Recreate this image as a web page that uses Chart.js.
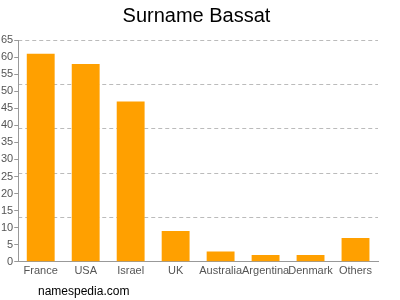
<!DOCTYPE html>
<html>
<head>
<meta charset="utf-8">
<script src="https://cdn.jsdelivr.net/npm/chart.js@4.4.0/dist/chart.umd.min.js"></script>
<style>
html,body{margin:0;padding:0;background:#fff;}
#wrap{position:relative;width:400px;height:300px;}
#title{position:absolute;left:0;width:393px;top:4px;text-align:center;font:20px "Liberation Sans",Arial,sans-serif;color:#000;}
#foot{position:absolute;left:38px;top:284px;font:12px "Liberation Sans",Arial,sans-serif;color:#000;}
</style>
</head>
<body>
<div id="wrap"><canvas id="c" width="400" height="300"></canvas><div id="title"></div><div id="foot">namespedia.com</div></div>
<script>
const categories = ["France","USA","Israel","UK","Australia","Argentina","Denmark","Others"];
const counts = [61,58,47,9,3,2,2,7];
const titleText = "Surname Bassat";
const yMax = 65;
const yStep = 5;
const gridStep = 13;

document.getElementById('title').textContent = titleText;

new Chart(document.getElementById('c'), {
  type: 'bar',
  data: {
    labels: categories,
    datasets: [{
      data: counts,
      backgroundColor: '#ffa000',
      borderWidth: 0,
      barPercentage: 0.62,
      categoryPercentage: 1.0
    }]
  },
  options: {
    responsive: false,
    animation: false,
    layout: { padding: { left: 0, right: 22, top: 40, bottom: 22 } },
    plugins: {
      legend: { display: false },
      tooltip: { enabled: false },
      title: { display: false }
    },
    scales: {
      x: {
        grid: { display: false, drawTicks: true, tickLength: 3 },
        border: { color: '#999' },
        ticks: { color: '#555', font: { family: '"Liberation Sans", Arial, sans-serif', size: 11 }, maxRotation: 0, autoSkip: false, padding: 0 }
      },
      y: {
        min: 0, max: yMax,
        grid: { display: true, drawOnChartArea: false, drawTicks: true, tickLength: 4, color: '#999' },
        border: { color: '#999' },
        ticks: { stepSize: yStep, color: '#555', font: { family: '"Liberation Sans", Arial, sans-serif', size: 11 }, padding: 1 }
      },
      y2: {
        position: 'right',
        min: 0, max: yMax,
        grid: { display: true, color: '#bbb', drawTicks: false },
        border: { display: false, dash: [4,3] },
        ticks: { display: false, stepSize: gridStep }
      }
    }
  },
  plugins: []
});
</script>
</body>
</html>
